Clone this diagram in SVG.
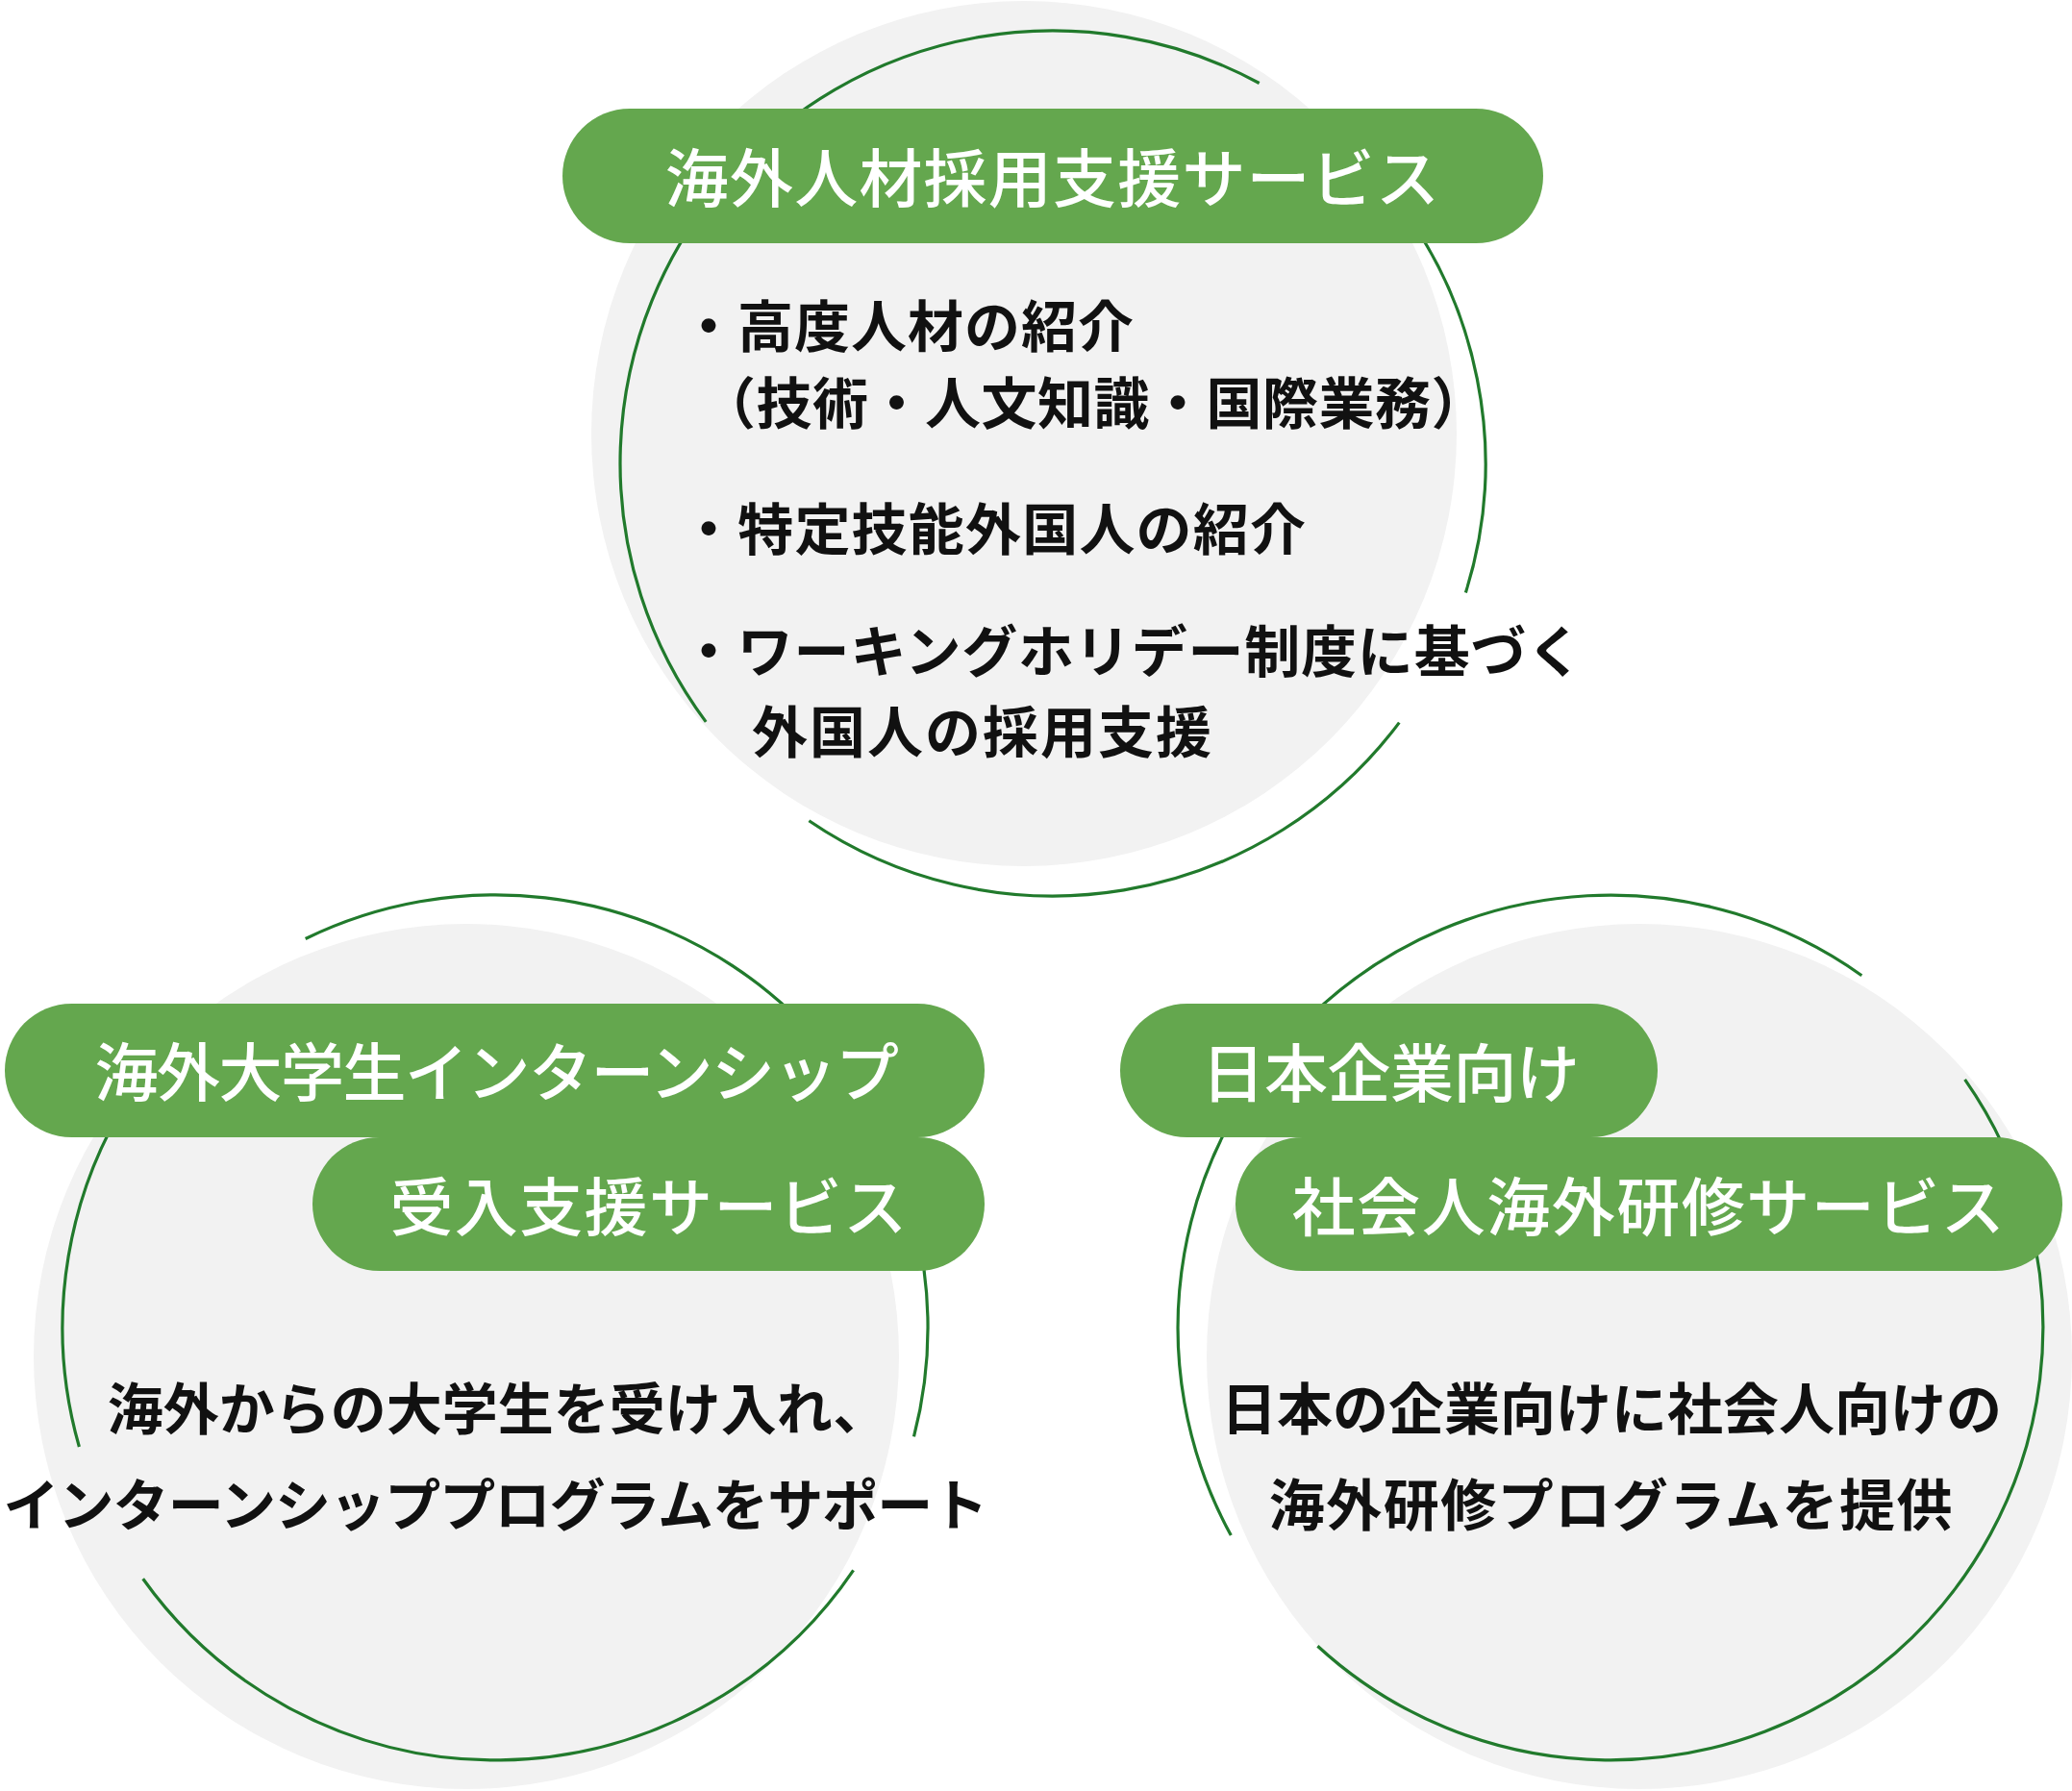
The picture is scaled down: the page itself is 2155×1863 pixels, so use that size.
<svg xmlns="http://www.w3.org/2000/svg" width="2155" height="1863" viewBox="0 0 2155 1863">
<style>
.bg{fill:#f2f2f2}
.ring{fill:none;stroke:#217a2c;stroke-width:3.2}
.pill{fill:#64a74e}
.pt{font-family:"Noto Sans CJK JP","Noto Sans",sans-serif;font-size:66px;font-weight:500;fill:#ffffff;text-anchor:middle}
.bt{font-family:"Noto Sans CJK JP","Noto Sans",sans-serif;font-size:58px;font-weight:700;fill:#111111}
.c{text-anchor:middle}
</style>
<rect width="2155" height="1863" fill="#ffffff"/>
<g id="circle-top">
<circle class="bg" cx="1065" cy="451" r="450"/>
<path class="ring" d="M734.2 750.9 A450 450 0 0 1 1309.7 86.5"/>
<path class="ring" d="M1439.7 192.7 A450 450 0 0 1 1524.4 616.6"/>
<path class="ring" d="M1455.3 751.6 A450 450 0 0 1 841.4 853.7"/>
<rect class="pill" x="585" y="113" width="1020" height="140" rx="70"/>
<text class="pt" x="1095" y="210" letter-spacing="1.2">海外人材採用支援サービス</text>
<text class="bt" x="708" y="361" letter-spacing="1">・高度人材の紹介</text>
<text class="bt" x="728" y="441" letter-spacing="0.5">（技術・人文知識・国際業務）</text>
<text class="bt" x="708" y="572" letter-spacing="1.2">・特定技能外国人の紹介</text>
<text class="bt" x="708" y="699" letter-spacing="0.8">・ワーキングホリデー制度に基づく</text>
<text class="bt" x="782" y="783" letter-spacing="2">外国人の採用支援</text>
</g>
<g id="circle-left">
<circle class="bg" cx="485" cy="1411" r="450"/>
<path class="ring" d="M317.7 976.5 A450 450 0 0 1 950.5 1494.4"/>
<path class="ring" d="M887.6 1633.3 A450 450 0 0 1 148.7 1642.3"/>
<path class="ring" d="M82.4 1505 A450 450 0 0 1 146.4 1122.9"/>
<rect class="pill" x="5" y="1044" width="1019" height="139" rx="69.5"/>
<rect class="pill" x="325" y="1183" width="699" height="139" rx="69.5"/>
<text class="pt" x="516" y="1140" letter-spacing="-1.5">海外大学生インターンシップ</text>
<text class="pt" x="675" y="1280" letter-spacing="1.4">受入支援サービス</text>
<text class="bt c" x="518" y="1487">海外からの大学生を受け入れ、</text>
<text class="bt c" x="515" y="1587" letter-spacing="-0.9">インターンシッププログラムをサポート</text>
</g>
<g id="circle-right">
<circle class="bg" cx="1705" cy="1411" r="450"/>
<path class="ring" d="M1280.3 1597.1 A450 450 0 0 1 1936.3 1014.7"/>
<path class="ring" d="M2043.6 1122.9 A450 450 0 0 1 1370.4 1712.2"/>
<rect class="pill" x="1165" y="1044" width="559" height="139" rx="69.5"/>
<rect class="pill" x="1285" y="1183" width="860" height="139" rx="69.5"/>
<text class="pt" x="1446" y="1141" letter-spacing="-0.5">日本企業向け</text>
<text class="pt" x="1715" y="1280" letter-spacing="1.5">社会人海外研修サービス</text>
<text class="bt c" x="1676" y="1487">日本の企業向けに社会人向けの</text>
<text class="bt c" x="1676" y="1587" letter-spacing="1.5">海外研修プログラムを提供</text>
</g>
<g id="connectors"></g>
</svg>
